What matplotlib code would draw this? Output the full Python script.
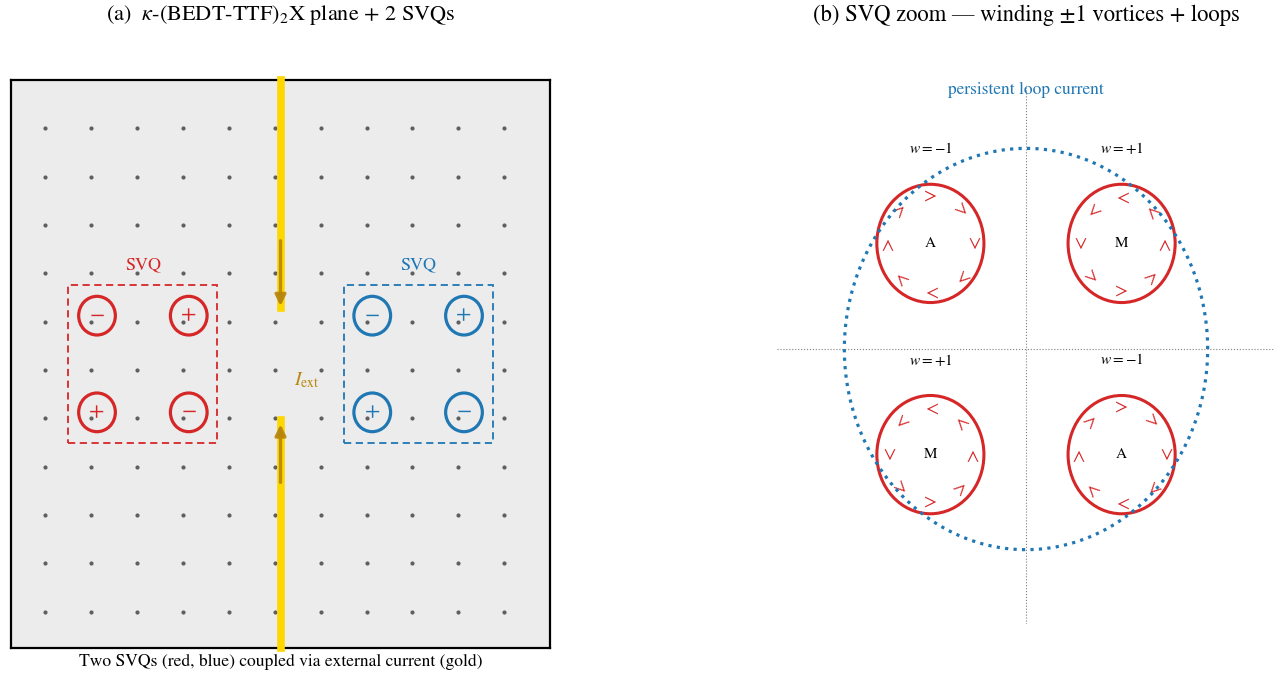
import numpy as np
import matplotlib
matplotlib.use("Agg")
import matplotlib.pyplot as plt
from matplotlib.patches import Circle, Rectangle

plt.rcParams['font.family'] = ['STIXGeneral', 'DejaVu Sans']
plt.rcParams['mathtext.fontset'] = 'stix'

# ---------------- data ----------------
lattice_x = list(range(11))
lattice_y = list(range(11))
xlim_a = (-0.75, 11.0)
ylim_a = (-0.75, 11.0)

svq_cx = [2.125, 8.125]
svq_cy = [5.125, 5.125]
svq_colors = ['#d62728', '#1f77b4']
svq_label = 'SVQ'
vortex_dx = [-1, 1, -1, 1]
vortex_dy = [1, 1, -1, -1]
vortex_signs = ['\u2212', '+', '+', '\u2212']
vortex_r_a = 0.4
box_half = 1.625

current_x = 5.125
current_gap = 1.15
arrow_from = [2.55, -2.45]
arrow_to = [1.2, -1.25]

# panel b
vb_x = [-1, 1, -1, 1]
vb_y = [1, 1, -1, -1]
vb_w = [-1, 1, 1, -1]
vb_lab = ['A', 'M', 'M', 'A']
vb_r = 0.56
loop_r = 1.9
chevron_angles = [0, 45, 90, 135, 180, 225, 270, 315]

RED = '#d62728'
BLUE = '#1f77b4'
GOLD = '#FFD700'
DGOLD = '#B8860B'

W, H = 1283, 675
fig = plt.figure(figsize=(W / 100, H / 100), dpi=100)

# ---------------- panel a ----------------
axa = fig.add_axes([11 / W, 1 - 648 / H, 539 / W, 568 / H])
axa.set_facecolor('#ececec')
axa.set_xlim(*xlim_a)
axa.set_ylim(*ylim_a)
axa.set_xticks([])
axa.set_yticks([])
for s in axa.spines.values():
    s.set_linewidth(1.6)
    s.set_color('black')

gx, gy = np.meshgrid(lattice_x, lattice_y)
axa.scatter(gx.ravel(), gy.ravel(), s=9, color='#5f5f5f', zorder=2, linewidths=0)

cy_mid = (ylim_a[0] + ylim_a[1]) / 2
axa.plot([current_x, current_x], [ylim_a[0], cy_mid - current_gap], color=GOLD,
         lw=5.5, solid_capstyle='projecting', clip_on=False, zorder=4)
axa.plot([current_x, current_x], [cy_mid + current_gap, ylim_a[1]], color=GOLD,
         lw=5.5, solid_capstyle='projecting', clip_on=False, zorder=4)
for f, t in zip(arrow_from, arrow_to):
    axa.annotate('', xy=(current_x, cy_mid + t), xytext=(current_x, cy_mid + f),
                 arrowprops=dict(arrowstyle='-|>', color=DGOLD, lw=2.4,
                                 mutation_scale=16, alpha=0.9, shrinkA=0, shrinkB=0),
                 zorder=5)
axa.text(5.69, 4.8, r'$I_{\rm ext}$', color=DGOLD, fontsize=14, ha='center', va='center')

for cx, cy, col in zip(svq_cx, svq_cy, svq_colors):
    axa.add_patch(Rectangle((cx - box_half, cy - box_half), 2 * box_half, 2 * box_half,
                            fill=False, edgecolor=col, lw=1.3, ls=(0, (4, 2.5)), zorder=3))
    axa.text(cx, cy + box_half + 0.42, svq_label, color=col, fontsize=13,
             ha='center', va='center')
    for dx, dy, sg in zip(vortex_dx, vortex_dy, vortex_signs):
        axa.add_patch(Circle((cx + dx, cy + dy), vortex_r_a, fill=False,
                             edgecolor=col, lw=2.3, zorder=3))
        axa.text(cx + dx, cy + dy, sg, color=col, fontsize=16, ha='center',
                 va='center', zorder=4)

fig.text(281 / W, 1 - 15 / H, r'(a)  $\kappa$-(BEDT-TTF)$_2$X plane + 2 SVQs',
         fontsize=16, ha='center', va='center')
fig.text(281 / W, 1 - 662 / H, 'Two SVQs (red, blue) coupled via external current (gold)',
         fontsize=12.6, ha='center', va='center')

# ---------------- panel b ----------------
axb = fig.add_axes([777.4 / W, 1 - 623.6 / H, 497.2 / W, 538.6 / H])
axb.set_xlim(-2.6, 2.6)
axb.set_ylim(-2.6, 2.5)
axb.axis('off')
axb.axhline(0, color='gray', lw=0.8, ls=':', zorder=1)
axb.axvline(0, color='gray', lw=0.8, ls=':', zorder=1)

for x, y, w, lab in zip(vb_x, vb_y, vb_w, vb_lab):
    axb.add_patch(Circle((x, y), vb_r, fill=False, edgecolor=RED, lw=2.2, zorder=3))
    axb.text(x, y, lab, fontsize=11, ha='center', va='center', zorder=4)
    axb.text(x, y + 0.9, r'$w = %s1$' % ('-' if w < 0 else '+'), fontsize=11,
             ha='center', va='center')
    for a in chevron_angles:
        th = np.deg2rad(a)
        px = x + 0.8 * vb_r * np.cos(th)
        py = y + 0.8 * vb_r * np.sin(th)
        rot = a - 90 if w < 0 else a + 90
        axb.text(px, py, '>', color=RED, fontsize=14, rotation=rot,
                 rotation_mode='anchor', ha='center', va='center', zorder=4)

th = np.linspace(0, 2 * np.pi, 400)
axb.plot(loop_r * np.cos(th), loop_r * np.sin(th), color=BLUE, lw=2.3, ls=':', zorder=5)
axb.text(0, 2.45, 'persistent loop current', color=BLUE, fontsize=12.5,
         ha='center', va='center')

fig.text(1026 / W, 1 - 15 / H, '(b) SVQ zoom \u2014 winding \u00b11 vortices + loops',
         fontsize=16.3, ha='center', va='center')

fig.savefig('out.png', dpi=100)
